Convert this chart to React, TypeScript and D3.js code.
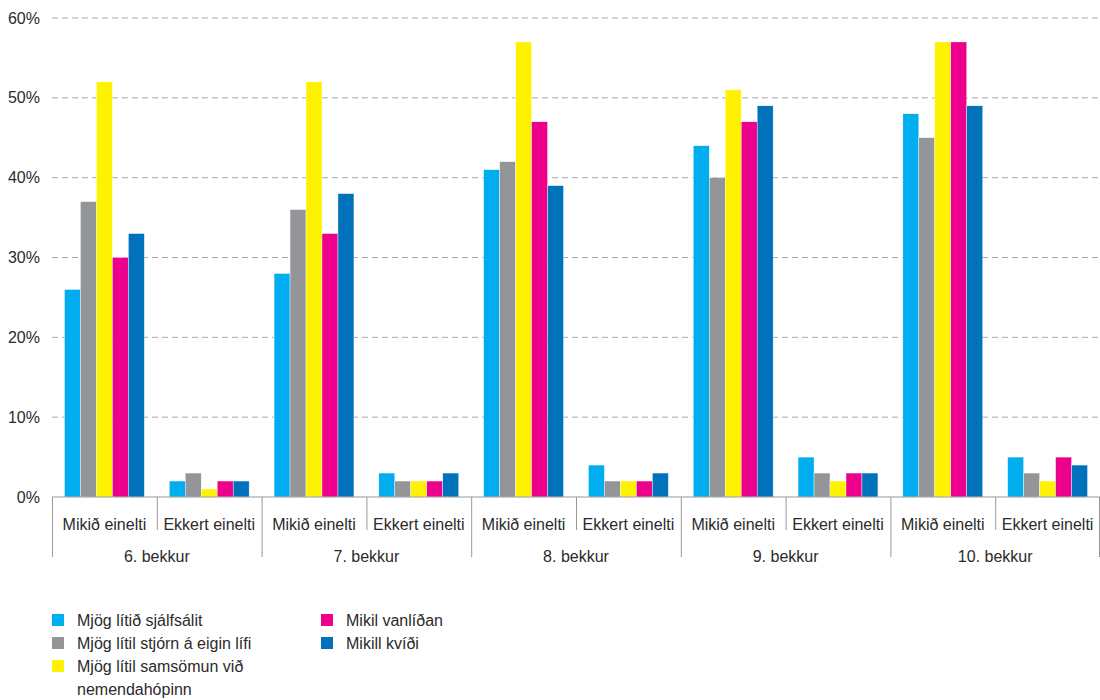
import React from "react";
import * as d3 from "d3";

const grades = ["6. bekkur", "7. bekkur", "8. bekkur", "9. bekkur", "10. bekkur"];
const subCats = ["Mikið einelti", "Ekkert einelti"];
const seriesNames = [
  "Mjög lítið sjálfsálit",
  "Mjög lítil stjórn á eigin lífi",
  "Mjög lítil samsömun við nemendahópinn",
  "Mikil vanlíðan",
  "Mikill kvíði",
];
const colors = ["#00AEEF", "#939598", "#FFF200", "#EC008C", "#0072BC"];
// values per series, order: 6.M, 6.E, 7.M, 7.E, 8.M, 8.E, 9.M, 9.E, 10.M, 10.E
const sjalfsalit = [26, 2, 28, 3, 41, 4, 44, 5, 48, 5];
const stjorn = [37, 3, 36, 2, 42, 2, 40, 3, 45, 3];
const samsomun = [52, 1, 52, 2, 57, 2, 51, 2, 57, 2];
const vanlidan = [30, 2, 33, 2, 47, 2, 47, 3, 57, 5];
const kvidi = [33, 2, 38, 3, 39, 3, 49, 3, 49, 4];
const seriesValues = [sjalfsalit, stjorn, samsomun, vanlidan, kvidi];
const yTicks = [0, 10, 20, 30, 40, 50, 60];

export default function App() {
  const W = 1100, H = 700;
  const left = 52, right = 1100, top = 18, bottom = 497;
  const font = "'Liberation Sans', Arial, sans-serif";
  const textColor = "#2b2b2b";
  const axisColor = "#999";
  const fs = 16;

  const slots = grades.flatMap((g) => subCats.map((s) => `${g}|${s}`));
  const x0 = d3.scaleBand<string>().domain(slots).range([left, right]).paddingInner(0).paddingOuter(0);
  const x1 = d3.scaleBand<number>().domain(d3.range(seriesNames.length)).range([0, x0.bandwidth()]).paddingOuter(0.78).paddingInner(0);
  const y = d3.scaleLinear().domain([0, 60]).range([bottom, top]);
  const gx = d3.scaleBand<string>().domain(grades).range([left, right]);

  const legendItems = [
    { i: 0, x: 52, y: 620, lines: [seriesNames[0]] },
    { i: 1, x: 52, y: 643, lines: [seriesNames[1]] },
    { i: 2, x: 52, y: 666, lines: ["Mjög lítil samsömun við", "nemendahópinn"] },
    { i: 3, x: 321, y: 620, lines: [seriesNames[3]] },
    { i: 4, x: 321, y: 643, lines: [seriesNames[4]] },
  ];

  return (
    <svg width={W} height={H} style={{ position: "absolute", left: 0, top: 0 }} fontFamily={font}>
      <rect width={W} height={H} fill="#fff" />
      {yTicks.map((t) => (
        <g key={t}>
          {t > 0 && (
            <line x1={left} x2={right} y1={y(t)} y2={y(t)} stroke="#aaa" strokeWidth={1} strokeDasharray="6,4" />
          )}
          <text x={40} y={y(t)} dy="0.35em" textAnchor="end" fontSize={fs} fill={textColor}>
            {t}%
          </text>
        </g>
      ))}
      {slots.map((slot, si) => (
        <g key={slot} transform={`translate(${x0(slot)},0)`}>
          {seriesValues.map((vals, k) => (
            <rect
              key={k}
              x={x1(k)}
              y={y(vals[si])}
              width={x1.bandwidth()}
              height={bottom - y(vals[si])}
              fill={colors[k]}
              stroke="#fff"
              strokeWidth={0.4}
            />
          ))}
        </g>
      ))}
      <line x1={left} x2={right} y1={bottom} y2={bottom} stroke={axisColor} strokeWidth={1} />
      {slots.map((slot, si) => {
        const xs = x0(slot)!;
        const isGroupStart = si % 2 === 0;
        return (
          <g key={"lab" + slot}>
            <line x1={xs + 0.5} x2={xs + 0.5} y1={bottom} y2={isGroupStart ? 557 : 530} stroke={axisColor} strokeWidth={1} />
            <text x={xs + x0.bandwidth() / 2} y={524} dy="0.35em" textAnchor="middle" fontSize={fs} fill={textColor}>
              {slot.split("|")[1]}
            </text>
          </g>
        );
      })}
      <line x1={right - 0.5} x2={right - 0.5} y1={bottom} y2={557} stroke={axisColor} strokeWidth={1} />
      {grades.map((g) => (
        <text key={g} x={gx(g)! + gx.bandwidth() / 2} y={556} dy="0.35em" textAnchor="middle" fontSize={fs} fill={textColor}>
          {g}
        </text>
      ))}
      {legendItems.map((it) => (
        <g key={it.i}>
          <rect x={it.x} y={it.y - 6} width={12} height={12} fill={colors[it.i]} />
          {it.lines.map((ln, li) => (
            <text key={li} x={it.x + 25} y={it.y + li * 23} dy="0.35em" fontSize={fs} fill={textColor}>
              {ln}
            </text>
          ))}
        </g>
      ))}
    </svg>
  );
}
